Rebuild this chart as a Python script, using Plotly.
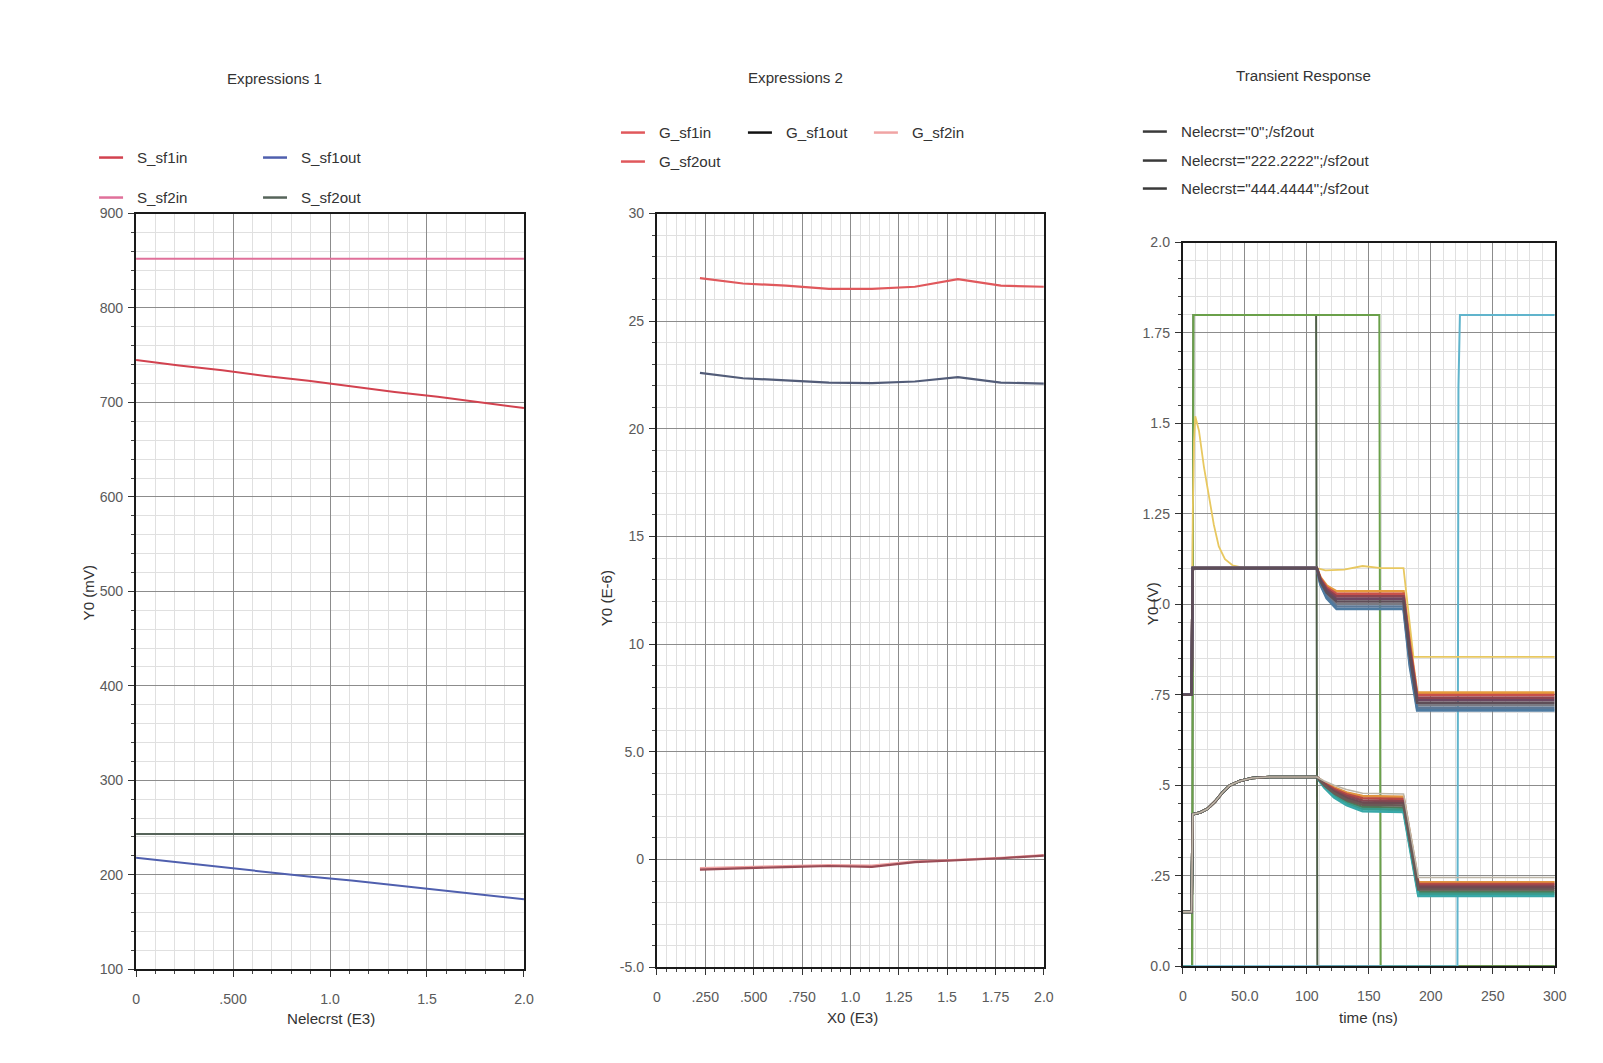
import plotly.graph_objects as go

W, H = 1603, 1063
PAD = 8  # default body margin of the html page
FW, FH = W - 2 * PAD, H - 2 * PAD
# measured capture correction (page appears slightly scaled when photographed)
SX, OX = 1603 / 1619, 3.0
SY, OY = 1063 / 1079, 7.5

# ---------------- Panel 1: Expressions 1 ----------------
nelecrst = [0.0, 0.2222, 0.4444, 0.6667, 0.8889, 1.1111, 1.3333, 1.5556, 1.7778, 2.0]
S_sf1in = [745, 739, 734, 728, 723, 717, 711, 706, 700, 694]
S_sf1out = [218, 213, 208, 203, 198, 194, 189, 184, 179, 174]
S_sf2in = [852, 852, 852, 852, 852, 852, 852, 852, 852, 852]
S_sf2out = [243, 243, 243, 243, 243, 243, 243, 243, 243, 243]
p1_names = ["S_sf1in", "S_sf1out", "S_sf2in", "S_sf2out"]
p1_colors = ["#d2424f", "#4f5fae", "#e0709a", "#56645a"]

# ---------------- Panel 2: Expressions 2 ----------------
x0 = [0.2222, 0.4444, 0.6667, 0.8889, 1.1111, 1.3333, 1.5556, 1.7778, 2.0]
G_sf1in = [27.0, 26.75, 26.65, 26.5, 26.5, 26.6, 26.95, 26.65, 26.6]
G_sf1out = [22.6, 22.35, 22.25, 22.15, 22.12, 22.2, 22.4, 22.15, 22.1]
G_sf2in = [-0.4, -0.34, -0.3, -0.26, -0.28, -0.08, -0.02, 0.08, 0.2]
G_sf2out = [-0.47, -0.4, -0.35, -0.3, -0.34, -0.12, -0.04, 0.06, 0.18]
p2_names = ["G_sf1in", "G_sf1out", "G_sf2in", "G_sf2out"]
p2_colors = ["#e0585c", "#525c78", "#f0a4a4", "#9a4c56"]

# ---------------- Panel 3: Transient Response ----------------
legend3_labels = ['Nelecrst="0";/sf2out', 'Nelecrst="222.2222";/sf2out',
                  'Nelecrst="444.4444";/sf2out']

# input pulses
t_pulse_a = [0, 7.5, 8.5, 107.5, 108.5, 300]
v_pulse_a = [0.0, 0.0, 1.8, 1.8, 0.0, 0.0]
t_pulse_b = [0, 7.5, 8.5, 158.5, 159.5, 300]
v_pulse_b = [0.0, 0.0, 1.8, 1.8, 0.0, 0.0]
t_pulse_c = [0, 221.5, 222.3, 223.5, 300]
v_pulse_c = [0.0, 0.0, 1.6, 1.8, 1.8]
pulse_colors = ["#4e5e48", "#6aa04a", "#60b4cc"]

# upper output group: first sweep point (overshoot)
t_up0 = [0, 7, 8, 9, 10, 13, 17, 21, 25, 29, 34, 40, 50, 108, 115, 130, 145, 160, 178, 186, 300]
v_up0 = [0.75, 0.75, 1.25, 1.45, 1.52, 1.48, 1.38, 1.3, 1.22, 1.16, 1.125, 1.108, 1.1,
         1.1, 1.094, 1.096, 1.106, 1.1, 1.1, 0.855, 0.855]
# upper output group: remaining sweep points
t_up = [0, 7, 8, 108, 111, 116, 124, 178, 183, 189, 300]
v_up_rise = [0.75, 0.75, 1.1, 1.1]
v_up_after = [
    [1.075, 1.052, 1.036, 1.036, 0.90, 0.756, 0.756],
    [1.072, 1.047, 1.029, 1.029, 0.89, 0.749, 0.749],
    [1.069, 1.042, 1.022, 1.022, 0.88, 0.742, 0.742],
    [1.066, 1.037, 1.015, 1.015, 0.87, 0.735, 0.735],
    [1.063, 1.032, 1.008, 1.008, 0.86, 0.728, 0.728],
    [1.060, 1.027, 1.001, 1.001, 0.85, 0.721, 0.721],
    [1.057, 1.022, 0.994, 0.994, 0.84, 0.714, 0.714],
    [1.054, 1.017, 0.987, 0.987, 0.83, 0.707, 0.707],
]
# lower output group
t_lo = [0, 7, 8, 14, 20, 26, 32, 38, 46, 56, 70, 108, 114, 122, 132, 145, 178, 190, 300]
v_lo_rise = [0.15, 0.15, 0.42, 0.425, 0.435, 0.455, 0.48, 0.50, 0.512, 0.52, 0.523, 0.523]
v_lo0_after = [0.512, 0.50, 0.488, 0.478, 0.476, 0.245, 0.245]
v_lo_after = [
    [0.508, 0.494, 0.480, 0.470, 0.468, 0.232, 0.232],
    [0.506, 0.490, 0.475, 0.464, 0.462, 0.227, 0.227],
    [0.504, 0.486, 0.470, 0.458, 0.456, 0.222, 0.222],
    [0.502, 0.482, 0.465, 0.452, 0.450, 0.217, 0.217],
    [0.500, 0.478, 0.460, 0.446, 0.444, 0.212, 0.212],
    [0.498, 0.474, 0.455, 0.440, 0.438, 0.206, 0.206],
    [0.496, 0.470, 0.450, 0.434, 0.432, 0.200, 0.200],
    [0.494, 0.466, 0.445, 0.428, 0.426, 0.194, 0.194],
]
sweep_color0 = "#e8c860"
sweep_up_colors = ["#e59a3c", "#c8504a", "#8c4450", "#6c4660", "#5e4e58", "#7a7a82", "#5c7896", "#4e7aa0"]
sweep_lo_colors = ["#e09440", "#b84a44", "#8a4650", "#6e4a52", "#6a5a56", "#4f7a58", "#3a9a8a", "#38a8a8"]

# tick labels
p1_xticks = [0, 0.5, 1.0, 1.5, 2.0]
p1_xtext = ["0", ".500", "1.0", "1.5", "2.0"]
p1_yticks = [100, 200, 300, 400, 500, 600, 700, 800, 900]
p1_ytext = ["100", "200", "300", "400", "500", "600", "700", "800", "900"]
p2_xticks = [0, 0.25, 0.5, 0.75, 1.0, 1.25, 1.5, 1.75, 2.0]
p2_xtext = ["0", ".250", ".500", ".750", "1.0", "1.25", "1.5", "1.75", "2.0"]
p2_yticks = [-5, 0, 5, 10, 15, 20, 25, 30]
p2_ytext = ["-5.0", "0", "5.0", "10", "15", "20", "25", "30"]
p3_xticks = [0, 50, 100, 150, 200, 250, 300]
p3_xtext = ["0", "50.0", "100", "150", "200", "250", "300"]
p3_yticks = [0, 0.25, 0.5, 0.75, 1.0, 1.25, 1.5, 1.75, 2.0]
p3_ytext = ["0.0", ".25", ".5", ".75", "1.0", "1.25", "1.5", "1.75", "2.0"]

FONT = "Liberation Sans, Arial, sans-serif"
fig = go.Figure()


def add(x, y, color, xa, ya, width=1.6):
    fig.add_trace(go.Scatter(x=x, y=y, mode="lines", line=dict(color=color, width=width),
                             xaxis=xa, yaxis=ya, showlegend=False, hoverinfo="skip"))


# panel 1
for ys, c in zip([S_sf1in, S_sf1out, S_sf2in, S_sf2out], p1_colors):
    add(nelecrst, ys, c, "x", "y", width=2)
# panel 2
for ys, c in zip([G_sf2in, G_sf2out, G_sf1in, G_sf1out],
                 [p2_colors[2], p2_colors[3], p2_colors[0], p2_colors[1]]):
    add(x0, ys, c, "x2", "y2", width=2.2)
# panel 3
for tp, vp, c in zip([t_pulse_a, t_pulse_b, t_pulse_c], [v_pulse_a, v_pulse_b, v_pulse_c], pulse_colors):
    add(tp, vp, c, "x3", "y3", width=2)
order = [0, 1, 2, 5, 6, 7, 3, 4]
for i in order:
    add(t_lo, v_lo_rise + v_lo_after[i], sweep_lo_colors[i], "x3", "y3", width=2.6)
add(t_lo, v_lo_rise + v_lo0_after, "#bdb6a8", "x3", "y3", width=1.6)
add(t_up0, v_up0, sweep_color0, "x3", "y3", width=1.8)
for i in order:
    add(t_up, v_up_rise + v_up_after[i], sweep_up_colors[i], "x3", "y3", width=2.6)


def px_x(p):
    q = (p - OX) / SX
    return (q - PAD) / FW


def px_y(p):
    q = (p - OY) / SY
    return 1 - (q - PAD) / FH


FS = 1 / SX  # font compensation


def axis_common(tickvals, ticktext, rng, minor_dtick, domain, anchor, is_y):
    return dict(
        domain=domain, anchor=anchor, range=rng, tickmode="array",
        tickvals=tickvals, ticktext=ticktext,
        showline=True, mirror=True, linecolor="#1a1a1a", linewidth=2,
        ticks="outside", ticklen=6, tickcolor="#333", tickwidth=1,
        showgrid=True, gridcolor="#8c8c8c", gridwidth=1, zeroline=False,
        minor=dict(dtick=minor_dtick, tick0=0, showgrid=True, gridcolor="#e0e0e0",
                   gridwidth=1, ticks="outside", ticklen=3, tickcolor="#444"),
        tickfont=dict(family=FONT, size=14 * FS, color="#5a5a5a"),
        ticklabelstandoff=2 if is_y else 10,
    )


fig.update_layout(
    width=FW, height=FH, autosize=False,
    margin=dict(l=0, r=0, t=0, b=0),
    paper_bgcolor="white", plot_bgcolor="white",
    showlegend=False,
    font=dict(family=FONT, color="#333"),
    xaxis=axis_common(p1_xticks, p1_xtext, [0, 2.0], 0.1, [px_x(135), px_x(523)], "y", False),
    yaxis=axis_common(p1_yticks, p1_ytext, [100, 900], 20, [px_y(969), px_y(213)], "x", True),
    xaxis2=axis_common(p2_xticks, p2_xtext, [0, 2.0], 0.05, [px_x(656), px_x(1043)], "y2", False),
    yaxis2=axis_common(p2_yticks, p2_ytext, [-5, 30], 1, [px_y(967), px_y(213)], "x2", True),
    xaxis3=axis_common(p3_xticks, p3_xtext, [0, 300], 10, [px_x(1182), px_x(1554)], "y3", False),
    yaxis3=axis_common(p3_yticks, p3_ytext, [0, 2.0], 0.05, [px_y(966), px_y(242)], "x3", True),
)

annots = []
shapes = []


def text(x, y, s, size=14, color="#333", angle=0, xanchor="center"):
    annots.append(dict(x=px_x(x), y=px_y(y), xref="paper", yref="paper", text=s,
                       showarrow=False, textangle=angle, xanchor=xanchor, yanchor="middle",
                       font=dict(family=FONT, size=size * FS, color=color)))


def legend_item(x_line, y, label, color):
    shapes.append(dict(type="line", xref="paper", yref="paper",
                       x0=px_x(x_line), x1=px_x(x_line + 24), y0=px_y(y), y1=px_y(y),
                       line=dict(color=color, width=2.5)))
    text(x_line + 36, y, label, size=15, xanchor="left")


# titles
text(273, 78, "Expressions 1", size=15)
text(795, 77, "Expressions 2", size=15)
text(1303, 75, "Transient Response", size=15)

# axis titles
text(330, 1018, "Nelecrst (E3)", size=15)
text(852, 1017, "X0 (E3)", size=15)
text(1368, 1017, "time (ns)", size=15)
text(87, 593, "Y0 (mV)", size=15, angle=-90)
text(605, 598, "Y0 (E-6)", size=15, angle=-90)
text(1151, 603, "Y0 (V)", size=15, angle=-90)

# legends
legend_item(98, 157, p1_names[0], p1_colors[0])
legend_item(262, 157, p1_names[1], p1_colors[1])
legend_item(98, 197, p1_names[2], p1_colors[2])
legend_item(262, 197, p1_names[3], p1_colors[3])

legend_item(620, 132, p2_names[0], p2_colors[0])
legend_item(747, 132, p2_names[1], "#111111")
legend_item(873, 132, p2_names[2], p2_colors[2])
legend_item(620, 161, p2_names[3], p2_colors[0])

for i, lab in enumerate(legend3_labels):
    legend_item(1142, [131, 160, 188][i], lab, "#3a3a3a")

fig.update_layout(annotations=annots, shapes=shapes)

fig.write_html("out.html", config={"displayModeBar": False})
